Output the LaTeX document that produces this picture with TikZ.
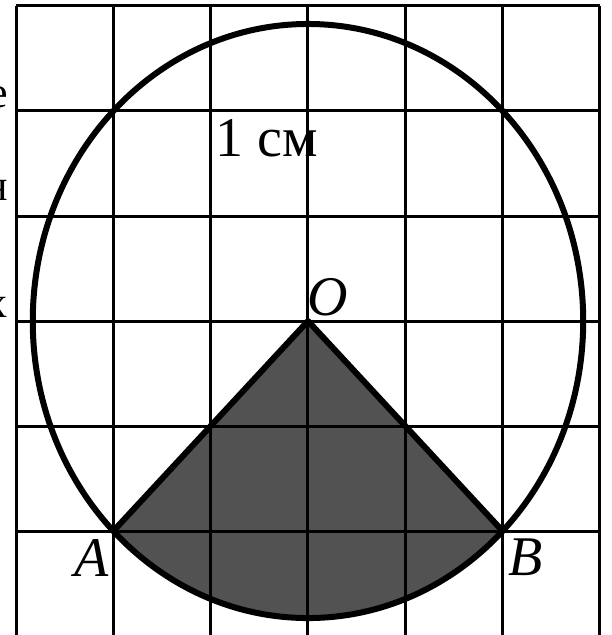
\documentclass[tikz,border=0pt]{standalone}
\usepackage{fontspec}
\setmainfont{Liberation Serif}
\begin{document}
\begin{tikzpicture}[x=48.65pt,y=52.5pt,
  gridline/.style={line width=1.5pt},
  boldline/.style={line width=3pt,line join=round},
  lbl/.style={font=\fontsize{28}{30}\selectfont, inner sep=0pt},
  frag/.style={font=\fontsize{22}{24}\selectfont, inner sep=0pt, anchor=base east}]
\useasboundingbox (-3.165,-2.990) rectangle (3.114,3.057);
\clip (-3.165,-2.990) rectangle (3.114,3.057);
\coordinate (O) at (0,0);
\coordinate (A) at (-2,-2);
\coordinate (B) at (2,-2);
% shaded sector
\fill[black!68] (O) -- (A) arc[start angle=225,end angle=315,x radius=137.6pt,y radius=148.5pt] -- cycle;
% grid
\foreach \i in {-3,...,3} \draw[gridline] (\i,-3.3) -- (\i,3);
\foreach \j in {-2,...,3} \draw[gridline] (-3,\j) -- (3,\j);
% circle
\draw[boldline] (O) ellipse [x radius=137.6pt, y radius=148.5pt];
% sector sides
\draw[boldline] (A) -- (O) -- (B);
% labels
\node[lbl, anchor=base west] (cm) at (-0.95,1.562) {1 см};
\node[lbl] (lO) at (0.2,0.23) {\itshape O};
\node[lbl] (lA) at (-2.22,-2.257) {\itshape A};
\node[lbl] (lB) at (2.24,-2.248) {\itshape B};
% cut-off letters at the left edge
\node[frag] (f1) at (-3.083,2.029) {е};
\node[frag] (f2) at (-3.083,1.152) {н};
\node[frag] (f3) at (-3.083,0.029) {х};
\end{tikzpicture}
\end{document}
